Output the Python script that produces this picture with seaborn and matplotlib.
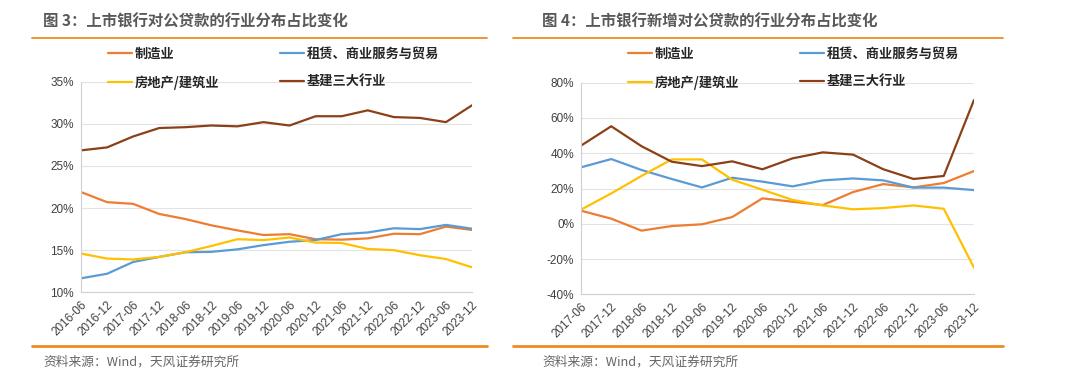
import numpy as np
import pandas as pd
import seaborn as sns
import matplotlib
matplotlib.use("Agg")
from matplotlib import pyplot as plt
from matplotlib.lines import Line2D
from matplotlib.ticker import FuncFormatter

# --- data ---
series_names = ["制造业", "租赁、商业服务与贸易", "房地产/建筑业", "基建三大行业"]

dates_left = ["2016-06", "2016-12", "2017-06", "2017-12", "2018-06", "2018-12",
              "2019-06", "2019-12", "2020-06", "2020-12", "2021-06", "2021-12",
              "2022-06", "2022-12", "2023-06", "2023-12"]
manuf_left = [21.9, 20.7, 20.5, 19.3, 18.7, 17.95, 17.35, 16.8, 16.9, 16.3, 16.25, 16.4,
              16.95, 16.9, 17.8, 17.4]
lease_left = [11.66, 12.2, 13.6, 14.2, 14.75, 14.8, 15.1, 15.6, 16.0, 16.2, 16.9, 17.1,
              17.6, 17.5, 18.0, 17.55]
realty_left = [14.6, 14.0, 13.9, 14.2, 14.75, 15.5, 16.3, 16.2, 16.5, 15.9, 15.85, 15.15,
               15.0, 14.4, 13.95, 12.97]
infra_left = [26.85, 27.2, 28.5, 29.5, 29.6, 29.8, 29.7, 30.2, 29.8, 30.9, 30.9, 31.6,
              30.8, 30.7, 30.2, 32.2]

dates_right = ["2017-06", "2017-12", "2018-06", "2018-12", "2019-06", "2019-12",
               "2020-06", "2020-12", "2021-06", "2021-12", "2022-06", "2022-12",
               "2023-06", "2023-12"]
manuf_right = [7.4, 2.9, -3.9, -1.3, -0.3, 3.8, 14.4, 12.5, 10.6, 18.0, 22.5, 20.6, 23.1, 29.9]
lease_right = [32.0, 36.7, 30.5, 25.4, 20.6, 26.1, 23.9, 21.2, 24.6, 25.7, 24.6, 20.5, 20.5, 19.1]
realty_right = [8.0, 17.2, 27.1, 36.5, 36.5, 25.0, 19.3, 13.5, 10.4, 8.2, 8.9, 10.4, 8.5, -24.9]
infra_right = [44.3, 55.3, 44.0, 35.2, 32.7, 35.4, 30.9, 37.1, 40.5, 39.2, 30.9, 25.4, 27.1, 70.2]

title_left = "图 3：上市银行对公贷款的行业分布占比变化"
title_right = "图 4：上市银行新增对公贷款的行业分布占比变化"
source_text = "资料来源：Wind，天风证券研究所"

palette = {"制造业": "#ED7D31", "租赁、商业服务与贸易": "#5B9BD5",
           "房地产/建筑业": "#FFC000", "基建三大行业": "#8B4017"}

sns.set_style("white")
plt.rcParams["font.family"] = ["Noto Sans CJK SC", "DejaVu Sans"]


def to_long(dates, cols):
    df = pd.DataFrame(dict(zip(series_names, cols)), index=dates)
    df.index.name = "date"
    return df.reset_index().melt(id_vars="date", var_name="series", value_name="value")


def draw_panel(ax, dates, cols, ylim, yticks):
    df = to_long(dates, cols)
    sns.lineplot(data=df, x="date", y="value", hue="series", hue_order=series_names,
                 palette=palette, sort=False, linewidth=1.6, ax=ax)
    ax.set_xlim(0, len(dates) - 1)
    ax.set_ylim(*ylim)
    ax.set_yticks(yticks)
    ax.yaxis.set_major_formatter(FuncFormatter(lambda v, p: f"{v:.0f}%"))
    ax.set_xlabel("")
    ax.set_ylabel("")
    ax.grid(axis="y", color="#E3E3E3", linewidth=0.8)
    ax.set_axisbelow(True)
    for s in ["top", "right"]:
        ax.spines[s].set_visible(False)
    for s in ["left", "bottom"]:
        ax.spines[s].set_color("#D0D0D0")
        ax.spines[s].set_linewidth(0.8)
    ax.tick_params(axis="both", direction="out", length=3, width=0.8, color="#D0D0D0",
                   labelsize=8.5, labelcolor="#404040", pad=2,
                   labelfontfamily="Liberation Sans")
    for lab in ax.get_xticklabels():
        lab.set_rotation(45)
        lab.set_ha("right")
        lab.set_rotation_mode("anchor")
    handles, labels = ax.get_legend_handles_labels()
    lookup = dict(zip(labels, handles))
    order = ["制造业", "房地产/建筑业", "租赁、商业服务与贸易", "基建三大行业"]
    ax.legend([lookup[k] for k in order], order, ncol=2, frameon=False,
              loc="upper left", prop={"weight": "bold", "size": 9.5},
              handlelength=1.8, handletextpad=0.2, columnspacing=4.6,
              labelspacing=1.12, borderaxespad=0)


fig = plt.figure(figsize=(10.8, 3.84), dpi=100)
H = 384.0
ax1 = fig.add_axes([81 / 1080, (H - 292.3) / H, (472 - 81) / 1080, (292.3 - 81.7) / H])
ax2 = fig.add_axes([581 / 1080, (H - 294.3) / H, (974 - 581) / 1080, (294.3 - 82.7) / H])

draw_panel(ax1, dates_left, [manuf_left, lease_left, realty_left, infra_left],
           (10, 35), [10, 15, 20, 25, 30, 35])
draw_panel(ax2, dates_right, [manuf_right, lease_right, realty_right, infra_right],
           (-40, 80), [-40, -20, 0, 20, 40, 60, 80])

# legends placed in figure coords
ax1.get_legend().set_bbox_to_anchor((103 / 1080, 1 - 41 / H), transform=fig.transFigure)
ax2.get_legend().set_bbox_to_anchor((623 / 1080, 1 - 41 / H), transform=fig.transFigure)

# titles, rules and sources
orange = "#F08A24"
for x0, x1, tx, title in [(32, 487, 43, title_left), (513, 1003, 542, title_right)]:
    fig.text(tx / 1080, 1 - 22 / H, title, fontsize=11.1, color="#595959",
             fontweight="bold", va="center", ha="left")
    fig.add_artist(Line2D([x0 / 1080, x1 / 1080], [1 - 38 / H, 1 - 38 / H],
                          color=orange, linewidth=1.3))
    fig.add_artist(Line2D([x0 / 1080, x1 / 1080], [1 - 345.7 / H, 1 - 345.7 / H],
                          color=orange, linewidth=2.0))
    fig.text(tx / 1080, 1 - 362.5 / H, source_text, fontsize=9.2, color="#666666",
             va="center", ha="left")

fig.savefig("out.png", dpi=100)
